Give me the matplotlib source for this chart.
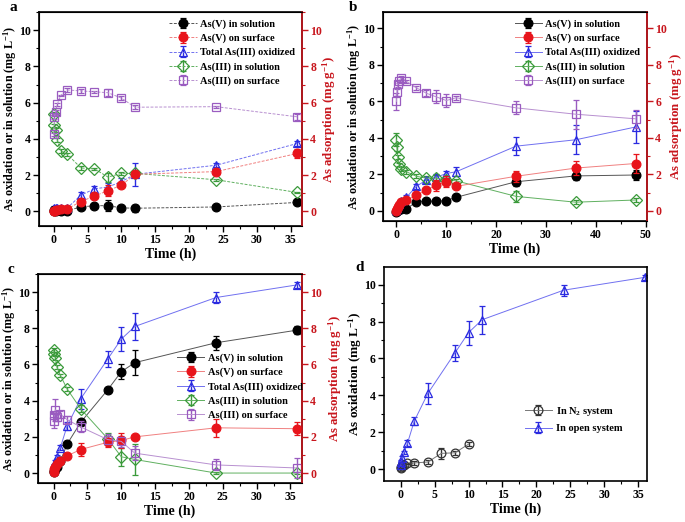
import matplotlib
matplotlib.use("Agg")
import matplotlib.pyplot as plt
from matplotlib.ticker import MultipleLocator

plt.rcParams['font.family'] = 'Liberation Serif'
plt.rcParams['font.weight'] = 'bold'
plt.rcParams['mathtext.fontset'] = 'custom'
plt.rcParams['mathtext.rm'] = 'Liberation Serif:bold'
plt.rcParams['mathtext.default'] = 'rm'

RED = '#e8141b'
DARKRED = '#c8161d'
BLUE = '#2a2ae0'
GREEN = '#3a9a3a'
PURPLE = '#9a5cc0'

# ---- panel a ----
t_a = [0, 0.083, 0.25, 0.5, 1, 2, 4, 6, 8, 10, 12, 24, 36]
sol_v_a = [0.05, 0.1, 0.05, 0.1, 0.05, 0.05, 0.25, 0.32, 0.32, 0.2, 0.18, 0.25, 0.5]
surf_v_a = [0.0, 0.05, 0.1, 0.1, 0.15, 0.15, 0.55, 0.85, 1.15, 1.45, 2.05, 2.2, 3.2]
total_a = [0.15, 0.2, 0.2, 0.2, 0.2, 0.2, 0.9, 1.25, 1.35, 1.65, 2.05, 2.55, 3.75]
sol_iii_a = [5.4, 4.75, 4.5, 3.95, 3.35, 3.15, 2.4, 2.35, 1.9, 2.1, 2.1, 1.75, 1.05]
surf_iii_a = [4.25, 5.2, 5.5, 5.9, 6.4, 6.7, 6.65, 6.6, 6.55, 6.25, 5.75, 5.78, 5.22]
sol_v_a_err = [0.05, 0.05, 0.05, 0.05, 0.05, 0.05, 0.08, 0.1, 0.3, 0.1, 0.2, 0.08, 0.08]
surf_v_a_err = [0.05, 0.05, 0.05, 0.05, 0.05, 0.05, 0.15, 0.1, 0.3, 0.1, 0.1, 0.1, 0.25]
total_a_err = [0.1, 0.1, 0.1, 0.1, 0.1, 0.1, 0.15, 0.15, 0.2, 0.2, 0.65, 0.1, 0.15]
sol_iii_a_err = [0.1, 0.1, 0.1, 0.1, 0.1, 0.1, 0.1, 0.05, 0.25, 0.1, 0.1, 0.05, 0.05]
surf_iii_a_err = [0.1, 0.1, 0.1, 0.1, 0.05, 0.1, 0.1, 0.05, 0.2, 0.1, 0.1, 0.05, 0.15]

# ---- panel b ----
t_b = [0, 0.083, 0.25, 0.5, 1, 2, 4, 6, 8, 10, 12, 24, 36, 48]
sol_v_b = [-0.05, 0.0, 0.05, 0.1, 0.1, 0.12, 0.5, 0.55, 0.52, 0.57, 0.75, 1.6, 1.92, 1.97]
surf_v_b = [0.0, 0.1, 0.2, 0.35, 0.5, 0.6, 0.85, 1.15, 1.4, 1.6, 1.35, 1.9, 2.35, 2.6]
total_b = [0.05, 0.15, 0.3, 0.4, 0.55, 0.75, 1.35, 1.7, 1.85, 2.05, 2.15, 3.55, 3.9, 4.6]
sol_iii_b = [3.9, 3.5, 2.95, 2.55, 2.3, 2.15, 1.9, 1.8, 1.8, 1.7, 1.65, 0.8, 0.48, 0.6]
surf_iii_b = [6.0, 6.5, 6.95, 7.1, 7.3, 7.1, 6.75, 6.45, 6.25, 6.05, 6.2, 5.65, 5.3, 5.05]
sol_v_b_err = [0.05, 0.05, 0.05, 0.05, 0.05, 0.05, 0.08, 0.08, 0.15, 0.08, 0.1, 0.25, 0.2, 0.3]
surf_v_b_err = [0.05, 0.05, 0.05, 0.05, 0.05, 0.05, 0.1, 0.1, 0.3, 0.3, 0.1, 0.3, 0.4, 0.5]
total_b_err = [0.1, 0.1, 0.1, 0.1, 0.1, 0.1, 0.15, 0.15, 0.2, 0.15, 0.25, 0.5, 0.8, 0.9]
sol_iii_b_err = [0.35, 0.2, 0.1, 0.1, 0.1, 0.1, 0.1, 0.1, 0.15, 0.1, 0.1, 0.3, 0.1, 0.1]
surf_iii_b_err = [0.45, 0.2, 0.15, 0.1, 0.1, 0.1, 0.1, 0.15, 0.35, 0.35, 0.1, 0.35, 0.8, 0.5]

# ---- panel c ----
t_c = [0, 0.083, 0.25, 0.5, 1, 2, 4, 8, 10, 12, 24, 36]
sol_v_c = [0.05, 0.1, 0.2, 0.35, 0.65, 1.6, 2.8, 4.6, 5.6, 6.1, 7.2, 7.9]
surf_v_c = [0.05, 0.2, 0.35, 0.5, 0.65, 0.95, 1.3, 1.7, 1.8, 2.0, 2.5, 2.45]
total_c = [0.2, 0.4, 0.6, 0.9, 1.4, 2.6, 4.1, 6.3, 7.4, 8.1, 9.7, 10.4]
sol_iii_c = [6.8, 6.6, 6.35, 5.85, 5.4, 4.65, 3.55, 1.9, 0.9, 0.75, 0.0, 0.0]
surf_iii_c = [2.9, 3.2, 3.5, 3.1, 3.25, 2.95, 2.55, 1.85, 1.75, 1.1, 0.45, 0.28]
sol_v_c_err = [0.05, 0.05, 0.05, 0.05, 0.05, 0.1, 0.15, 0.1, 0.4, 0.7, 0.4, 0.2]
surf_v_c_err = [0.05, 0.05, 0.05, 0.05, 0.05, 0.1, 0.35, 0.25, 0.4, 0.1, 0.5, 0.35]
total_c_err = [0.1, 0.1, 0.1, 0.1, 0.15, 0.2, 0.55, 0.45, 0.65, 0.75, 0.3, 0.15]
sol_iii_c_err = [0.1, 0.1, 0.1, 0.1, 0.1, 0.1, 0.2, 0.3, 0.5, 0.85, 0.05, 0.05]
surf_iii_c_err = [0.4, 0.2, 0.6, 0.2, 0.2, 0.2, 0.3, 0.3, 0.3, 0.4, 0.3, 0.55]

# ---- panel d ----
t_n2 = [0, 0.083, 0.25, 0.5, 1, 2, 4, 6, 8, 10]
ox_n2 = [0.05, 0.1, 0.15, 0.2, 0.3, 0.33, 0.38, 0.85, 0.88, 1.35]
ox_n2_err = [0.05, 0.05, 0.05, 0.05, 0.05, 0.1, 0.1, 0.3, 0.1, 0.1]
t_open = t_c
ox_open = total_c
ox_open_err = total_c_err

labels = ['As(V) in solution', 'As(V) on surface', 'Total As(III) oxidized',
          'As(III) in solution', 'As(III) on surface']

LEG_PROP = {'family': 'Liberation Serif', 'weight': 'bold', 'size': 7.5}


def style_axis(ax, xmaj, xmin):
    ax.xaxis.set_major_locator(MultipleLocator(xmaj))
    ax.xaxis.set_minor_locator(MultipleLocator(xmin))
    ax.yaxis.set_major_locator(MultipleLocator(2))
    ax.yaxis.set_minor_locator(MultipleLocator(1))
    ax.tick_params(axis='both', which='major', direction='out', length=4, width=1,
                   labelsize=8.5, pad=2)
    ax.tick_params(axis='both', which='minor', direction='out', length=2.5, width=0.8)
    for s in ax.spines.values():
        s.set_linewidth(1.2)
    ax.set_xlabel('Time (h)', fontsize=10, fontweight='bold', labelpad=1)


def series(ax, t, y, e, color, marker, fc, ls, lc):
    h = ax.errorbar(t, y, yerr=e, color=lc, ls=ls, lw=0.7, marker=marker, ms=6.3,
                    mfc=fc, mec=color, mew=0.9, ecolor=color, elinewidth=1,
                    capsize=2, capthick=1)
    return h


def place_ylabel(axis, x):
    axis.set_label_coords(x, 0.5)
    axis.label.set_verticalalignment('center')


def panel(rect, t, data, xlim, ylim, xmaj, xmin, ls, leg_kw, letter, letter_xy, lx, rx):
    ax = fig.add_axes(rect)
    ax2 = ax.twinx()
    sv, svv, tot, s3, sf3 = data
    h1 = series(ax, t, sv[0], sv[1], 'black', 'o', 'black', ls, '#555555')
    h2 = series(ax2, t, svv[0], svv[1], RED, 'o', RED, ls, '#f08080')
    h3 = series(ax, t, tot[0], tot[1], BLUE, '^', 'none', ls, '#7070f0')
    h4 = series(ax, t, s3[0], s3[1], GREEN, 'D', 'none', ls, '#60b060')
    h5 = series(ax2, t, sf3[0], sf3[1], PURPLE, 's', 'none', ls, '#b890d0')
    for a in (ax, ax2):
        a.set_xlim(*xlim)
        a.set_ylim(*ylim)
    style_axis(ax, xmaj, xmin)
    ax2.yaxis.set_major_locator(MultipleLocator(2))
    ax2.yaxis.set_minor_locator(MultipleLocator(1))
    ax2.tick_params(axis='y', which='major', direction='out', length=4, width=1,
                    labelsize=8.5, pad=2, colors=DARKRED)
    ax2.tick_params(axis='y', which='minor', direction='out', length=2.5, width=0.8,
                    colors=DARKRED)
    ax2.spines['right'].set_color(DARKRED)
    ax2.spines['right'].set_linewidth(1.2)
    ax.set_ylabel('As oxidation or in solution (mg L$^{-1}$)', fontsize=8.7,
                  fontweight='bold')
    place_ylabel(ax.yaxis, lx)
    ax2.set_ylabel('As adsorption (mg g$^{-1}$)', fontsize=9.3, fontweight='bold',
                   color=DARKRED)
    place_ylabel(ax2.yaxis, rx)
    ax2.legend([h1, h2, h3, h4, h5], labels, frameon=False, prop=LEG_PROP,
               labelspacing=0.45, handlelength=2.6, handletextpad=0.3,
               borderaxespad=0.3, **leg_kw)
    fig.text(letter_xy[0], letter_xy[1], letter, fontsize=11, fontweight='bold',
             ha='left', va='top')
    return ax


fig = plt.figure(figsize=(6.85, 5.22), dpi=100)
W, H = 685.0, 522.0


def rect(l, r, top, bot):
    return [l / W, 1 - bot / H, (r - l) / W, (bot - top) / H]


panel(rect(39, 302, 12, 226), t_a,
      [(sol_v_a, sol_v_a_err), (surf_v_a, surf_v_a_err), (total_a, total_a_err),
       (sol_iii_a, sol_iii_a_err), (surf_iii_a, surf_iii_a_err)],
      (-2.2, 36.7), (-0.8, 11.0), 5, 2.5, (0, (3, 1.5)),
      dict(loc='upper right', bbox_to_anchor=(1.0, 1.0)), 'a', (10 / W, 1 - 1 / H),
      -0.11, 1.105)

panel(rect(383, 647, 12, 221), t_b,
      [(sol_v_b, sol_v_b_err), (surf_v_b, surf_v_b_err), (total_b, total_b_err),
       (sol_iii_b, sol_iii_b_err), (surf_iii_b, surf_iii_b_err)],
      (-2.7, 50.3), (-0.55, 10.9), 10, 5, '-',
      dict(loc='upper right', bbox_to_anchor=(1.0, 1.0)), 'b', (349 / W, 1 - 1 / H),
      -0.11, 1.11)

panel(rect(38, 302, 274, 483), t_c,
      [(sol_v_c, sol_v_c_err), (surf_v_c, surf_v_c_err), (total_c, total_c_err),
       (sol_iii_c, sol_iii_c_err), (surf_iii_c, surf_iii_c_err)],
      (-2.3, 36.7), (-0.55, 11.0), 5, 2.5, '-',
      dict(loc='upper left', bbox_to_anchor=(0.5, 0.655)), 'c', (8 / W, 1 - 263 / H),
      -0.11, 1.125)

# panel d
axd = fig.add_axes(rect(384, 647, 267, 481))
hn = series(axd, t_n2, ox_n2, ox_n2_err, '#333333', 'o', 'none', '-', '#777777')
ho = series(axd, t_open, ox_open, ox_open_err, BLUE, '^', 'none', '-', '#7070f0')
axd.set_xlim(-2.46, 36.3)
axd.set_ylim(-0.65, 10.96)
style_axis(axd, 5, 2.5)
axd.set_ylabel('As oxidation (mg L$^{-1}$)', fontsize=9.5, fontweight='bold')
place_ylabel(axd.yaxis, -0.11)
axd.legend([hn, ho], ['In N$_2$ system', 'In open system'], frameon=False,
           prop=LEG_PROP, labelspacing=0.6, handlelength=2.6, handletextpad=0.4,
           loc='upper left', bbox_to_anchor=(0.5, 0.4))
fig.text(355 / W, 1 - 261 / H, 'd', fontsize=11, fontweight='bold', ha='left', va='top')

fig.savefig('out.png', dpi=100)
